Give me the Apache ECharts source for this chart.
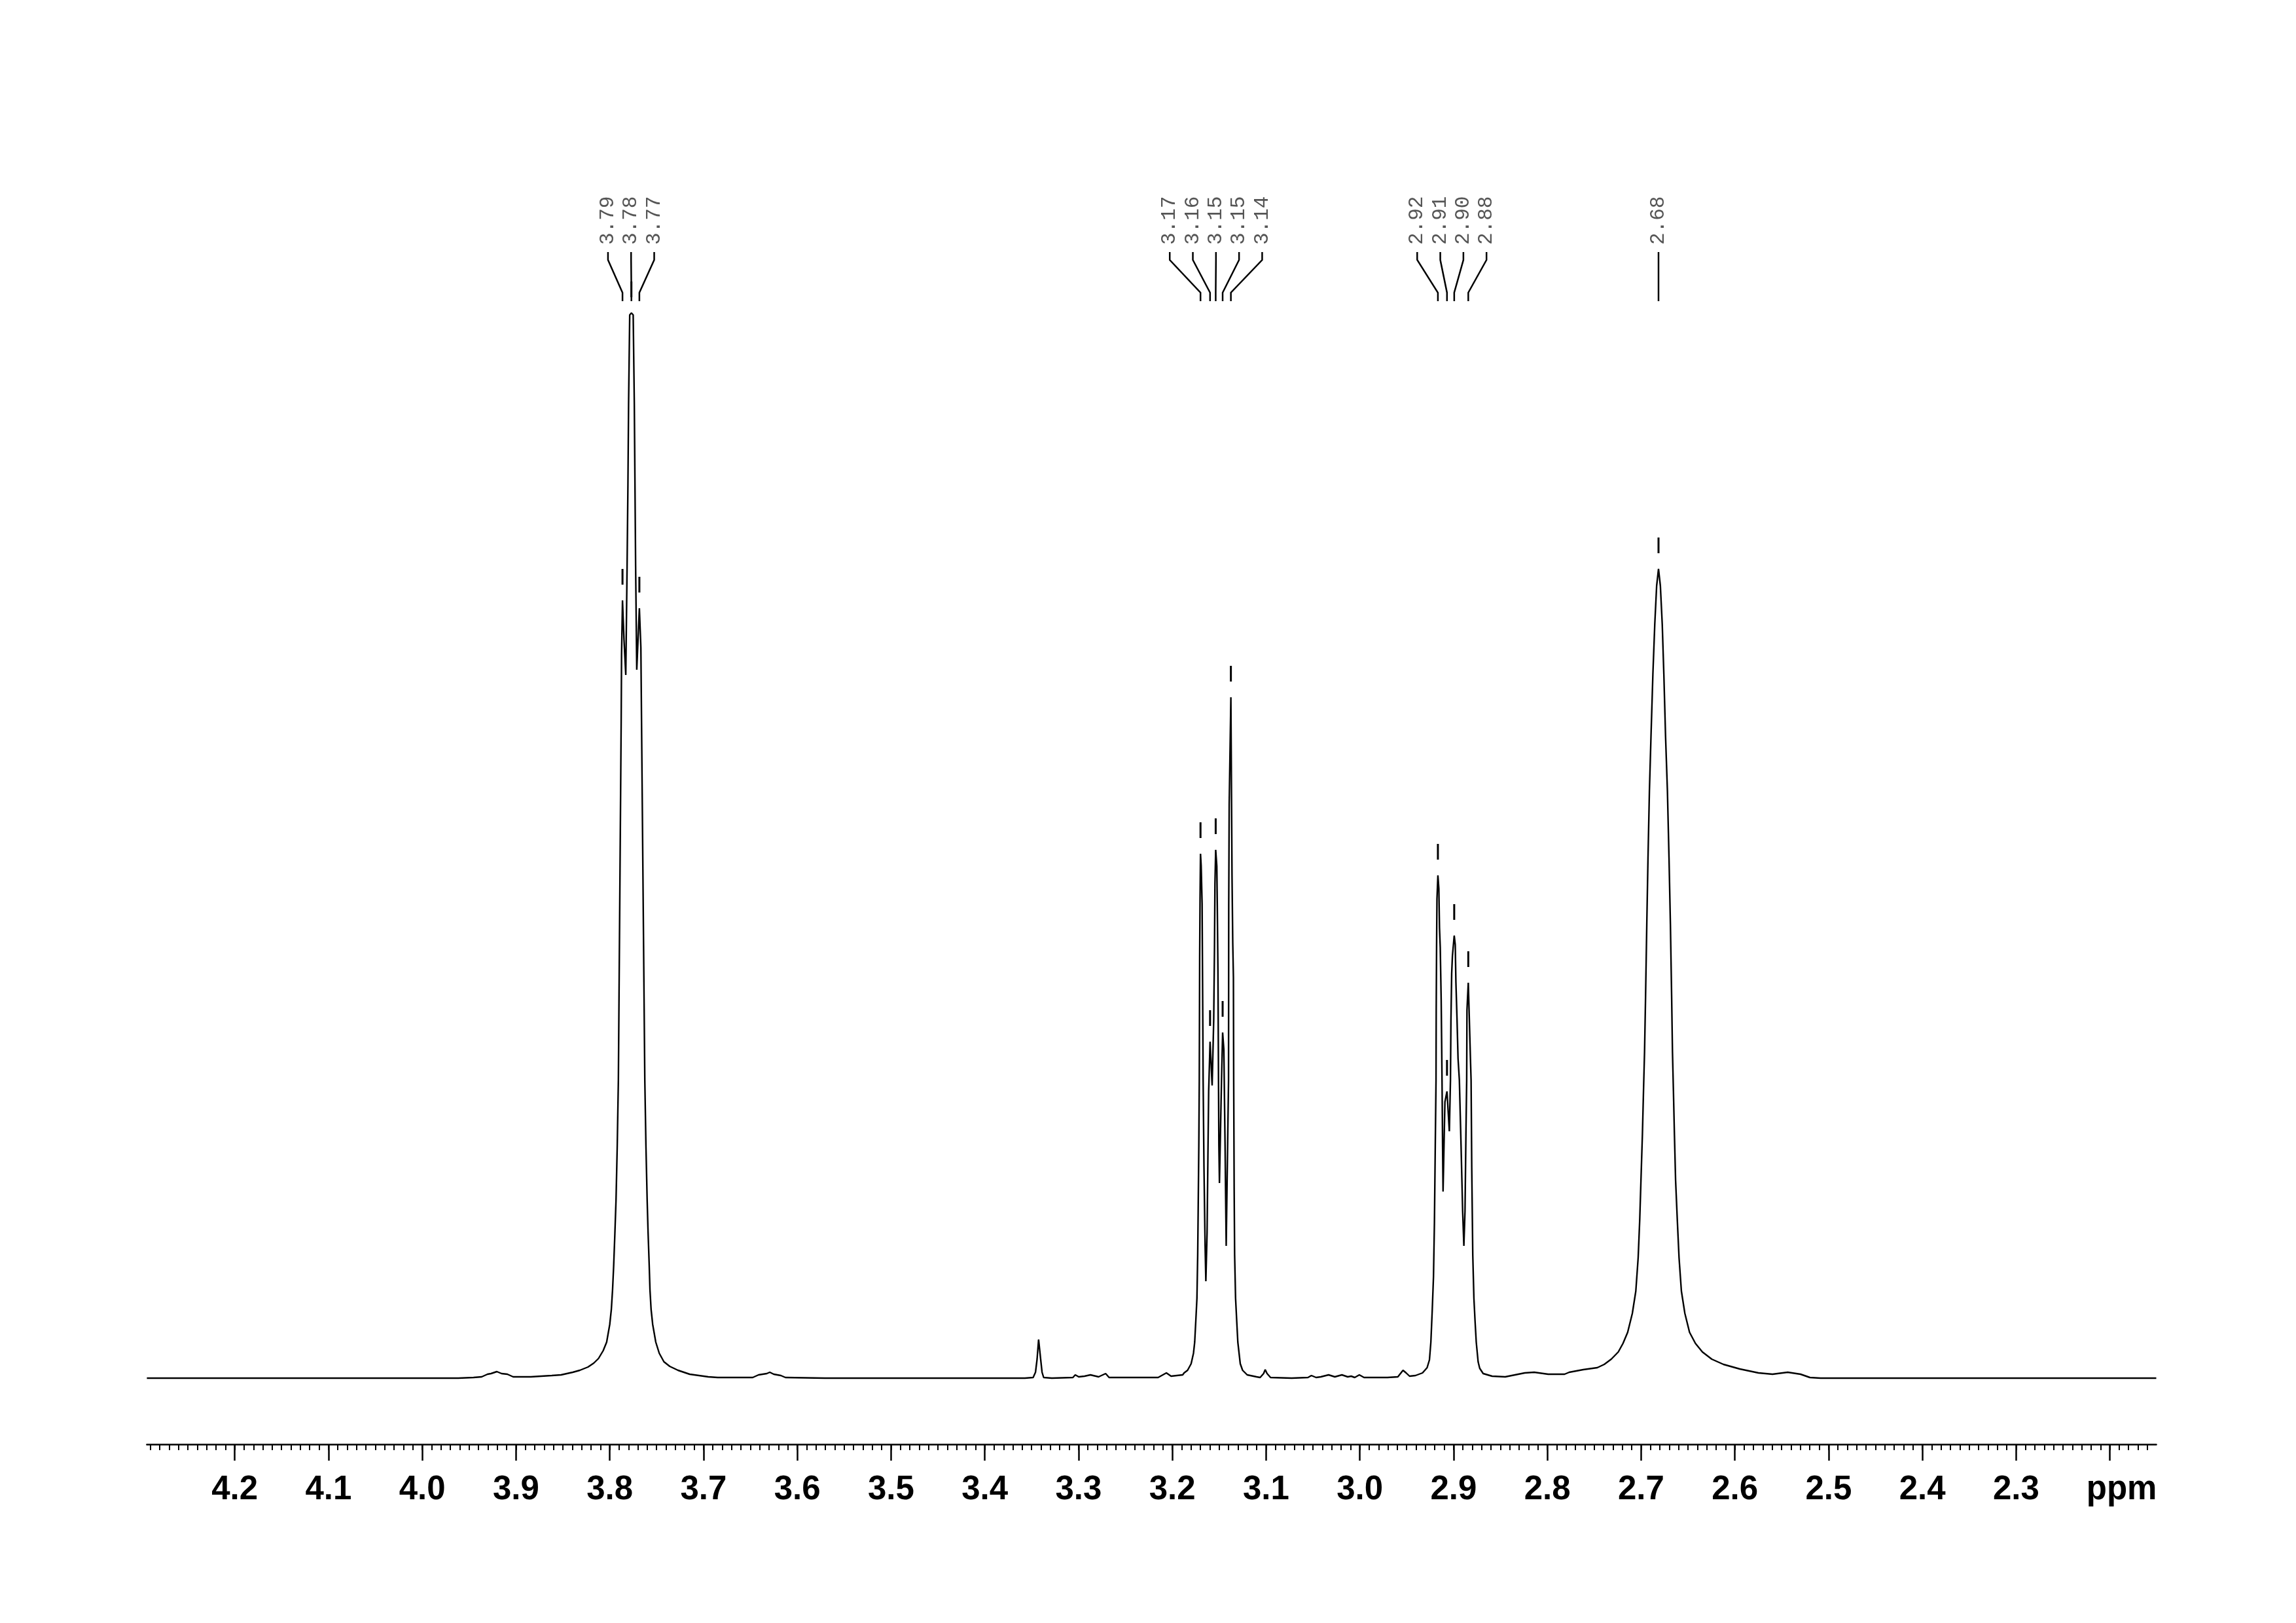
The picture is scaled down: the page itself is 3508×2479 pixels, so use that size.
<!DOCTYPE html>
<html>
<head>
<meta charset="utf-8">
<script src="https://cdn.jsdelivr.net/npm/echarts@6/dist/echarts.min.js"></script>
<style>
html,body{margin:0;padding:0;background:#ffffff;}
#chart{width:3508px;height:2479px;}
</style>
</head>
<body>
<div id="chart"></div>
<script>
// ---------- spectrum trace (chemical shift in ppm, intensity in arbitrary units) ----------
const ppm = [
4.2937,3.9615,3.9453,3.9366,3.9304,3.9266,3.9204,3.9154,3.9092,3.9030,
3.8843,3.8618,3.8519,3.8394,3.8319,3.8232,3.8170,3.8120,3.8070,3.8033,
3.8000,3.7983,3.7970,3.7958,3.7945,3.7933,3.7920,3.7908,3.7878,3.7874,
3.7864,3.7848,3.7829,3.7815,3.7806,3.7799,3.7787,3.7769,3.7750,3.7738,
3.7731,3.7724,3.7712,3.7684,3.7668,3.7661,3.7626,3.7614,3.7601,3.7591,
3.7579,3.7571,3.7559,3.7542,3.7509,3.7472,3.7422,3.7360,3.7272,3.7148,
3.6949,3.6849,3.6475,3.6413,3.6325,3.6293,3.6251,3.6175,3.6126,3.5707,
3.3572,3.3484,3.3459,3.3442,3.3426,3.3404,3.3389,3.3372,3.3285,3.3060,
3.3035,3.2998,3.2936,3.2873,3.2786,3.2711,3.2674,3.2151,3.2063,3.2013,
3.1889,3.1874,3.1837,3.1799,3.1774,3.1761,3.1749,3.1737,3.1729,3.1724,
3.1717,3.1712,3.1708,3.1704,3.1699,3.1692,3.1682,3.1674,3.1671,3.1662,
3.1650,3.1642,3.1629,3.1620,3.1612,3.1597,3.1575,3.1558,3.1550,3.1545,
3.1537,3.1525,3.1520,3.1513,3.1507,3.1503,3.1497,3.1475,3.1463,3.1450,
3.1437,3.1425,3.1400,3.1398,3.1393,3.1375,3.1363,3.1355,3.1348,3.1345,
3.1340,3.1335,3.1325,3.1313,3.1301,3.1275,3.1250,3.1201,3.1101,3.1063,
3.1026,3.1009,3.0989,3.0952,3.0727,3.0553,3.0516,3.0466,3.0416,3.0333,
3.0266,3.0191,3.0129,3.0092,3.0054,3.0005,2.9955,2.9705,2.9594,2.9539,
2.9506,2.9469,2.9406,2.9331,2.9282,2.9257,2.9242,2.9227,2.9214,2.9204,
2.9195,2.9187,2.9185,2.9181,2.9177,2.9167,2.9157,2.9150,2.9142,2.9132,
2.9127,2.9123,2.9117,2.9112,2.9102,2.9092,2.9070,2.9045,2.9033,2.9028,
2.9020,2.9012,2.8993,2.8982,2.8975,2.8963,2.8952,2.8938,2.8920,2.8903,
2.8890,2.8878,2.8868,2.8860,2.8857,2.8843,2.8833,2.8820,2.8813,2.8806,
2.8795,2.8783,2.8771,2.8758,2.8738,2.8721,2.8684,2.8589,2.8449,2.8240,
2.8140,2.7991,2.7816,2.7766,2.7617,2.7467,2.7393,2.7318,2.7243,2.7193,
2.7143,2.7093,2.7056,2.7031,2.7014,2.7001,2.6986,2.6974,2.6963,2.6952,
2.6939,2.6926,2.6911,2.6894,2.6874,2.6854,2.6834,2.6814,2.6794,2.6774,
2.6757,2.6739,2.6719,2.6702,2.6687,2.6674,2.6665,2.6655,2.6644,2.6632,
2.6614,2.6595,2.6570,2.6533,2.6483,2.6420,2.6346,2.6246,2.6121,2.5947,
2.5748,2.5598,2.5436,2.5299,2.5199,2.5085,2.1505
];
const intensity = [
0,0,1,2,6,7,10,7,6,2,
2,4,5,9,12,17,23,30,42,55,
82,105,135,172,222,272,355,455,1005,1105,
1188,1128,1074,1240,1365,1489,1624,1627,1624,1489,
1365,1240,1082,1176,1116,1004,455,355,272,222,
172,135,105,82,55,38,25,18,12,6,
2,1,1,5,7,9,6,4,1,0,
0,1,9,29,59,29,9,1,0,1,
5,2,3,5,2,7,1,1,8,3,
5,8,12,22,38,55,88,122,188,255,
355,455,643,732,801,783,725,533,455,322,
202,148,222,338,438,514,447,548,655,755,
807,782,722,622,455,355,298,455,528,502,
355,202,455,722,877,1040,768,665,612,455,
288,188,122,88,55,22,12,5,2,1,
7,13,7,1,0,1,4,1,2,5,
2,5,2,3,1,5,1,1,2,12,
8,3,4,8,16,28,55,105,155,238,
355,455,562,660,732,768,748,688,658,578,
512,455,355,285,355,422,438,377,455,545,
618,645,676,662,605,548,488,455,355,255,
202,255,372,455,562,604,555,488,455,322,
188,122,88,55,25,15,7,3,2,8,
9,6,6,9,13,16,21,29,40,53,
70,99,133,184,243,303,371,439,498,583,
693,795,897,981,1075,1151,1210,1236,1210,1151,
1075,981,897,795,693,583,498,439,371,303,
243,184,133,99,70,53,40,29,21,14,
8,6,9,6,1,0,0
];

// ---------- picked peaks ----------
const peakLabels = ['3.79','3.78','3.77','3.17','3.16','3.15','3.15','3.14','2.92','2.91','2.90','2.88','2.68'];
const peakPpm    = [3.7864,3.7769,3.7684,3.1699,3.1597,3.1537,3.1463,3.1375,2.9167,2.9070,2.8993,2.8843,2.6814];
const peakHeight = [1188,1627,1176,801,514,807,528,1040,768,438,676,604,1236];
const peakGroup  = [0,0,0,1,1,1,1,1,2,2,2,2,3];

// ---------- axis ----------
const axisMin = 2.1505;
const axisMax = 4.2937;
const tickValues = [4.2,4.1,4.0,3.9,3.8,3.7,3.6,3.5,3.4,3.3,3.2,3.1,3.0,2.9,2.8,2.7,2.6,2.5,2.4,2.3,2.2];
const tickLabels = ['4.2','4.1','4.0','3.9','3.8','3.7','3.6','3.5','3.4','3.3','3.2','3.1','3.0','2.9','2.8','2.7','2.6','2.5','2.4','2.3','ppm'];
const minorStep = 0.01;

const minorTickValues = [];
for (let k = Math.ceil(axisMin / minorStep); k <= Math.floor(axisMax / minorStep); k++) {
  minorTickValues.push(Math.round(k) / 100);
}

const spectrumData = ppm.map((p, i) => [p, intensity[i]]);
const peakData = peakPpm.map((p, i) => [p, peakHeight[i]]);

const LABEL_GAP = 35.3;
function renderPeak(params, api) {
  const i = params.dataIndex;
  const pt = api.coord([peakPpm[i], peakHeight[i]]);
  const g = peakGroup[i];
  const members = [];
  for (let k = 0; k < peakPpm.length; k++) if (peakGroup[k] === g) members.push(k);
  const xs = members.map(k => api.coord([peakPpm[k], peakHeight[k]])[0]);
  const cx = xs.reduce((a, b) => a + b, 0) / xs.length;
  const pos = members.indexOf(i);
  const lx = cx + (pos - (members.length - 1) / 2) * LABEL_GAP;
  return {
    type: 'group',
    children: [
      {
        type: 'text', x: lx, y: 374, rotation: Math.PI / 2,
        style: { text: peakLabels[i], font: '31px "Liberation Mono"', fill: '#555', align: 'left', verticalAlign: 'middle' }
      },
      {
        type: 'polyline',
        shape: { points: [[lx, 385], [lx, 397], [pt[0], 447], [pt[0], 460]] },
        style: { stroke: '#000', lineWidth: 2.5, fill: 'none' }
      },
      {
        type: 'line',
        shape: { x1: pt[0], y1: pt[1] - 48, x2: pt[0], y2: pt[1] - 24 },
        style: { stroke: '#000', lineWidth: 3 }
      }
    ]
  };
}

const chart = echarts.init(document.getElementById('chart'), null, { renderer: 'canvas' });
chart.setOption({
  backgroundColor: '#ffffff',
  animation: false,
  grid: { left: 224.4, right: 213.5, top: 206, bottom: 273, containLabel: false },
  xAxis: [
    {
      type: 'value', min: axisMin, max: axisMax, inverse: true, position: 'bottom',
      axisLine: { show: true, onZero: false, lineStyle: { color: '#000', width: 2.5 } },
      axisTick: { show: true, customValues: tickValues, length: 25, lineStyle: { color: '#000', width: 2.5 } },
      axisLabel: {
        show: true, customValues: tickValues, margin: 44,
        fontFamily: 'Liberation Sans', fontWeight: 'bold', fontSize: 51, color: '#000',
        formatter: function (v) {
          let idx = -1;
          for (let k = 0; k < tickValues.length; k++) if (Math.abs(tickValues[k] - v) < 1e-6) idx = k;
          if (idx < 0) return '';
          const t = tickLabels[idx];
          return t === 'ppm' ? '{u|ppm}' : t;
        },
        rich: { u: { fontFamily: 'Liberation Sans', fontWeight: 'bold', fontSize: 51, color: '#000', padding: [0, 0, 0, 36] } }
      },
      splitLine: { show: false }
    },
    {
      type: 'value', min: axisMin, max: axisMax, inverse: true, position: 'bottom', gridIndex: 0,
      axisLine: { show: false, onZero: false },
      axisTick: { show: true, customValues: minorTickValues, length: 9, lineStyle: { color: '#000', width: 2 } },
      axisLabel: { show: false },
      splitLine: { show: false }
    }
  ],
  yAxis: { type: 'value', min: -101, max: 1899, show: false, splitLine: { show: false } },
  series: [
    {
      type: 'line', xAxisIndex: 0, yAxisIndex: 0, data: spectrumData,
      showSymbol: false, symbol: 'none', sampling: null, clip: false,
      lineStyle: { color: '#000', width: 2.4 }, z: 2
    },
    {
      type: 'custom', xAxisIndex: 0, yAxisIndex: 0, data: peakData,
      renderItem: renderPeak, z: 3, clip: false
    }
  ]
});
</script>
</body>
</html>
